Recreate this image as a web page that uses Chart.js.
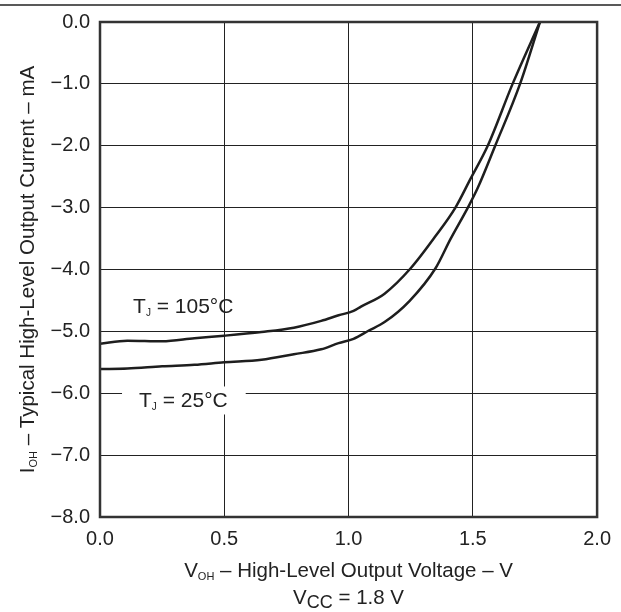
<!DOCTYPE html>
<html>
<head>
<meta charset="utf-8">
<script src="https://cdn.jsdelivr.net/npm/chart.js@4.4.1/dist/chart.umd.min.js"></script>
<style>
  html, body { margin: 0; padding: 0; background: #fff; }
  #wrap { width: 621px; height: 612px; }
</style>
</head>
<body>
<div id="wrap"><canvas id="ioh-chart"></canvas></div>
<script>
Chart.defaults.font.family = 'Liberation Sans, Arial, sans-serif';
Chart.defaults.color = '#222';

// T_J = 105 C curve (upper)
const volt105 = [0.00, 0.11, 0.25, 0.38, 0.50, 0.65, 0.78, 0.89, 0.96, 1.02, 1.05, 1.145, 1.25, 1.35, 1.43, 1.49, 1.56, 1.66, 1.77];
const curr105 = [-5.20, -5.15, -5.16, -5.11, -5.07, -5.01, -4.94, -4.83, -4.74, -4.67, -4.60, -4.39, -3.98, -3.46, -3.00, -2.54, -2.00, -1.00, 0.00];
// T_J = 25 C curve (lower)
const volt25 = [0.00, 0.11, 0.25, 0.38, 0.50, 0.65, 0.78, 0.89, 0.96, 1.02, 1.08, 1.145, 1.245, 1.35, 1.41, 1.48, 1.52, 1.59, 1.69, 1.77];
const curr25 = [-5.61, -5.60, -5.565, -5.54, -5.50, -5.46, -5.37, -5.29, -5.19, -5.12, -4.99, -4.85, -4.51, -3.98, -3.51, -3.00, -2.68, -2.00, -1.00, 0.00];

const xTickLabels = ['0.0', '0.5', '1.0', '1.5', '2.0'];
const yTickLabels = ['\u22128.0', '\u22127.0', '\u22126.0', '\u22125.0', '\u22124.0', '\u22123.0', '\u22122.0', '\u22121.0', '0.0'];

const lineColor = '#1e1e1e';
const toPoints = (xs, ys) => xs.map((v, i) => ({x: v, y: ys[i]}));

// draws text pieces left to right, sub pieces smaller and lowered
function drawRich(ctx, parts, x, y, size) {
  let cx = x;
  parts.forEach(p => {
    const fs = p.sub ? p.size : size;
    ctx.font = fs + 'px Liberation Sans, Arial, sans-serif';
    ctx.fillText(p.t, cx, y + (p.sub ? p.dy : 0));
    cx += ctx.measureText(p.t).width;
  });
}
function richWidth(ctx, parts, size) {
  let w = 0;
  parts.forEach(p => {
    ctx.font = (p.sub ? p.size : size) + 'px Liberation Sans, Arial, sans-serif';
    w += ctx.measureText(p.t).width;
  });
  return w;
}

const decor = {
  id: 'decor',
  afterDraw(chart) {
    const {ctx, chartArea: a, scales} = chart;
    ctx.save();
    // frame
    ctx.strokeStyle = '#333';
    ctx.lineWidth = 2.5;
    ctx.strokeRect(a.left, a.top, a.right - a.left, a.bottom - a.top);
    // rule at the top of the page
    ctx.strokeStyle = '#222';
    ctx.lineWidth = 1.5;
    ctx.beginPath();
    ctx.moveTo(0, 5);
    ctx.lineTo(chart.width, 5);
    ctx.stroke();

    ctx.fillStyle = '#222';
    ctx.textBaseline = 'alphabetic';
    ctx.textAlign = 'left';

    // curve labels
    const lab105 = [{t: 'T'}, {t: 'J', sub: true, size: 10, dy: 3}, {t: ' = 105\u00b0C'}];
    drawRich(ctx, lab105, scales.x.getPixelForValue(0.133), scales.y.getPixelForValue(-4.71), 21);

    const lab25 = [{t: 'T'}, {t: 'J', sub: true, size: 10, dy: 3}, {t: ' = 25\u00b0C'}];
    const bx = scales.x.getPixelForValue(0.157);
    const by = scales.y.getPixelForValue(-6.23);
    const w25 = richWidth(ctx, lab25, 21);
    ctx.fillStyle = '#fff';
    ctx.fillRect(bx - 17, by - 21, w25 + 35, 28);
    ctx.fillStyle = '#222';
    drawRich(ctx, lab25, bx, by, 21);

    // x axis title
    const xt = [{t: 'V'}, {t: 'OH', sub: true, size: 11, dy: 3}, {t: ' \u2013 High-Level Output Voltage \u2013 V'}];
    const cx = (a.left + a.right) / 2;
    drawRich(ctx, xt, cx - richWidth(ctx, xt, 20.5) / 2, 577, 20.5);
    const vcc = [{t: 'V'}, {t: 'CC', sub: true, size: 18, dy: 4}, {t: ' = 1.8 V'}];
    drawRich(ctx, vcc, cx - richWidth(ctx, vcc, 20.5) / 2, 604, 20.5);

    // y axis title
    const yt = [{t: 'I'}, {t: 'OH', sub: true, size: 11, dy: 3}, {t: ' \u2013 Typical High-Level Output Current \u2013 mA'}];
    ctx.translate(34, (a.top + a.bottom) / 2);
    ctx.rotate(-Math.PI / 2);
    drawRich(ctx, yt, -richWidth(ctx, yt, 20.5) / 2, 0, 20.5);
    ctx.restore();
  }
};

const chartData = {
  datasets: [
    {
      label: 'TJ = 105\u00b0C',
      data: toPoints(volt105, curr105),
      borderColor: lineColor,
      borderWidth: 2.5,
      pointRadius: 0,
      cubicInterpolationMode: 'monotone',
      fill: false
    },
    {
      label: 'TJ = 25\u00b0C',
      data: toPoints(volt25, curr25),
      borderColor: lineColor,
      borderWidth: 2.5,
      pointRadius: 0,
      cubicInterpolationMode: 'monotone',
      fill: false
    }
  ]
};

const options = {
  responsive: true,
  maintainAspectRatio: false,
  animation: false,
  layout: {
    padding: {left: 0, right: 23, top: 22, bottom: 0}
  },
  scales: {
    x: {
      type: 'linear',
      min: 0,
      max: 2,
      afterFit: s => { s.height = 95; },
      ticks: {
        stepSize: 0.5,
        padding: 10,
        font: {size: 20},
        color: '#222',
        callback: (v, i) => xTickLabels[i]
      },
      grid: {color: '#222', lineWidth: 1, drawTicks: false},
      border: {display: false}
    },
    y: {
      min: -8,
      max: 0,
      afterFit: s => { s.width = 100; },
      ticks: {
        stepSize: 1,
        padding: 10,
        font: {size: 20},
        color: '#222',
        callback: (v, i) => yTickLabels[i]
      },
      grid: {color: '#222', lineWidth: 1, drawTicks: false},
      border: {display: false}
    }
  },
  plugins: {
    legend: {display: false},
    tooltip: {enabled: false}
  }
};

const ctxIoh = document.getElementById('ioh-chart');
const iohChart = new Chart(ctxIoh, {
  type: 'line',
  data: chartData,
  options: options,
  plugins: [decor]
});
</script>
</body>
</html>
